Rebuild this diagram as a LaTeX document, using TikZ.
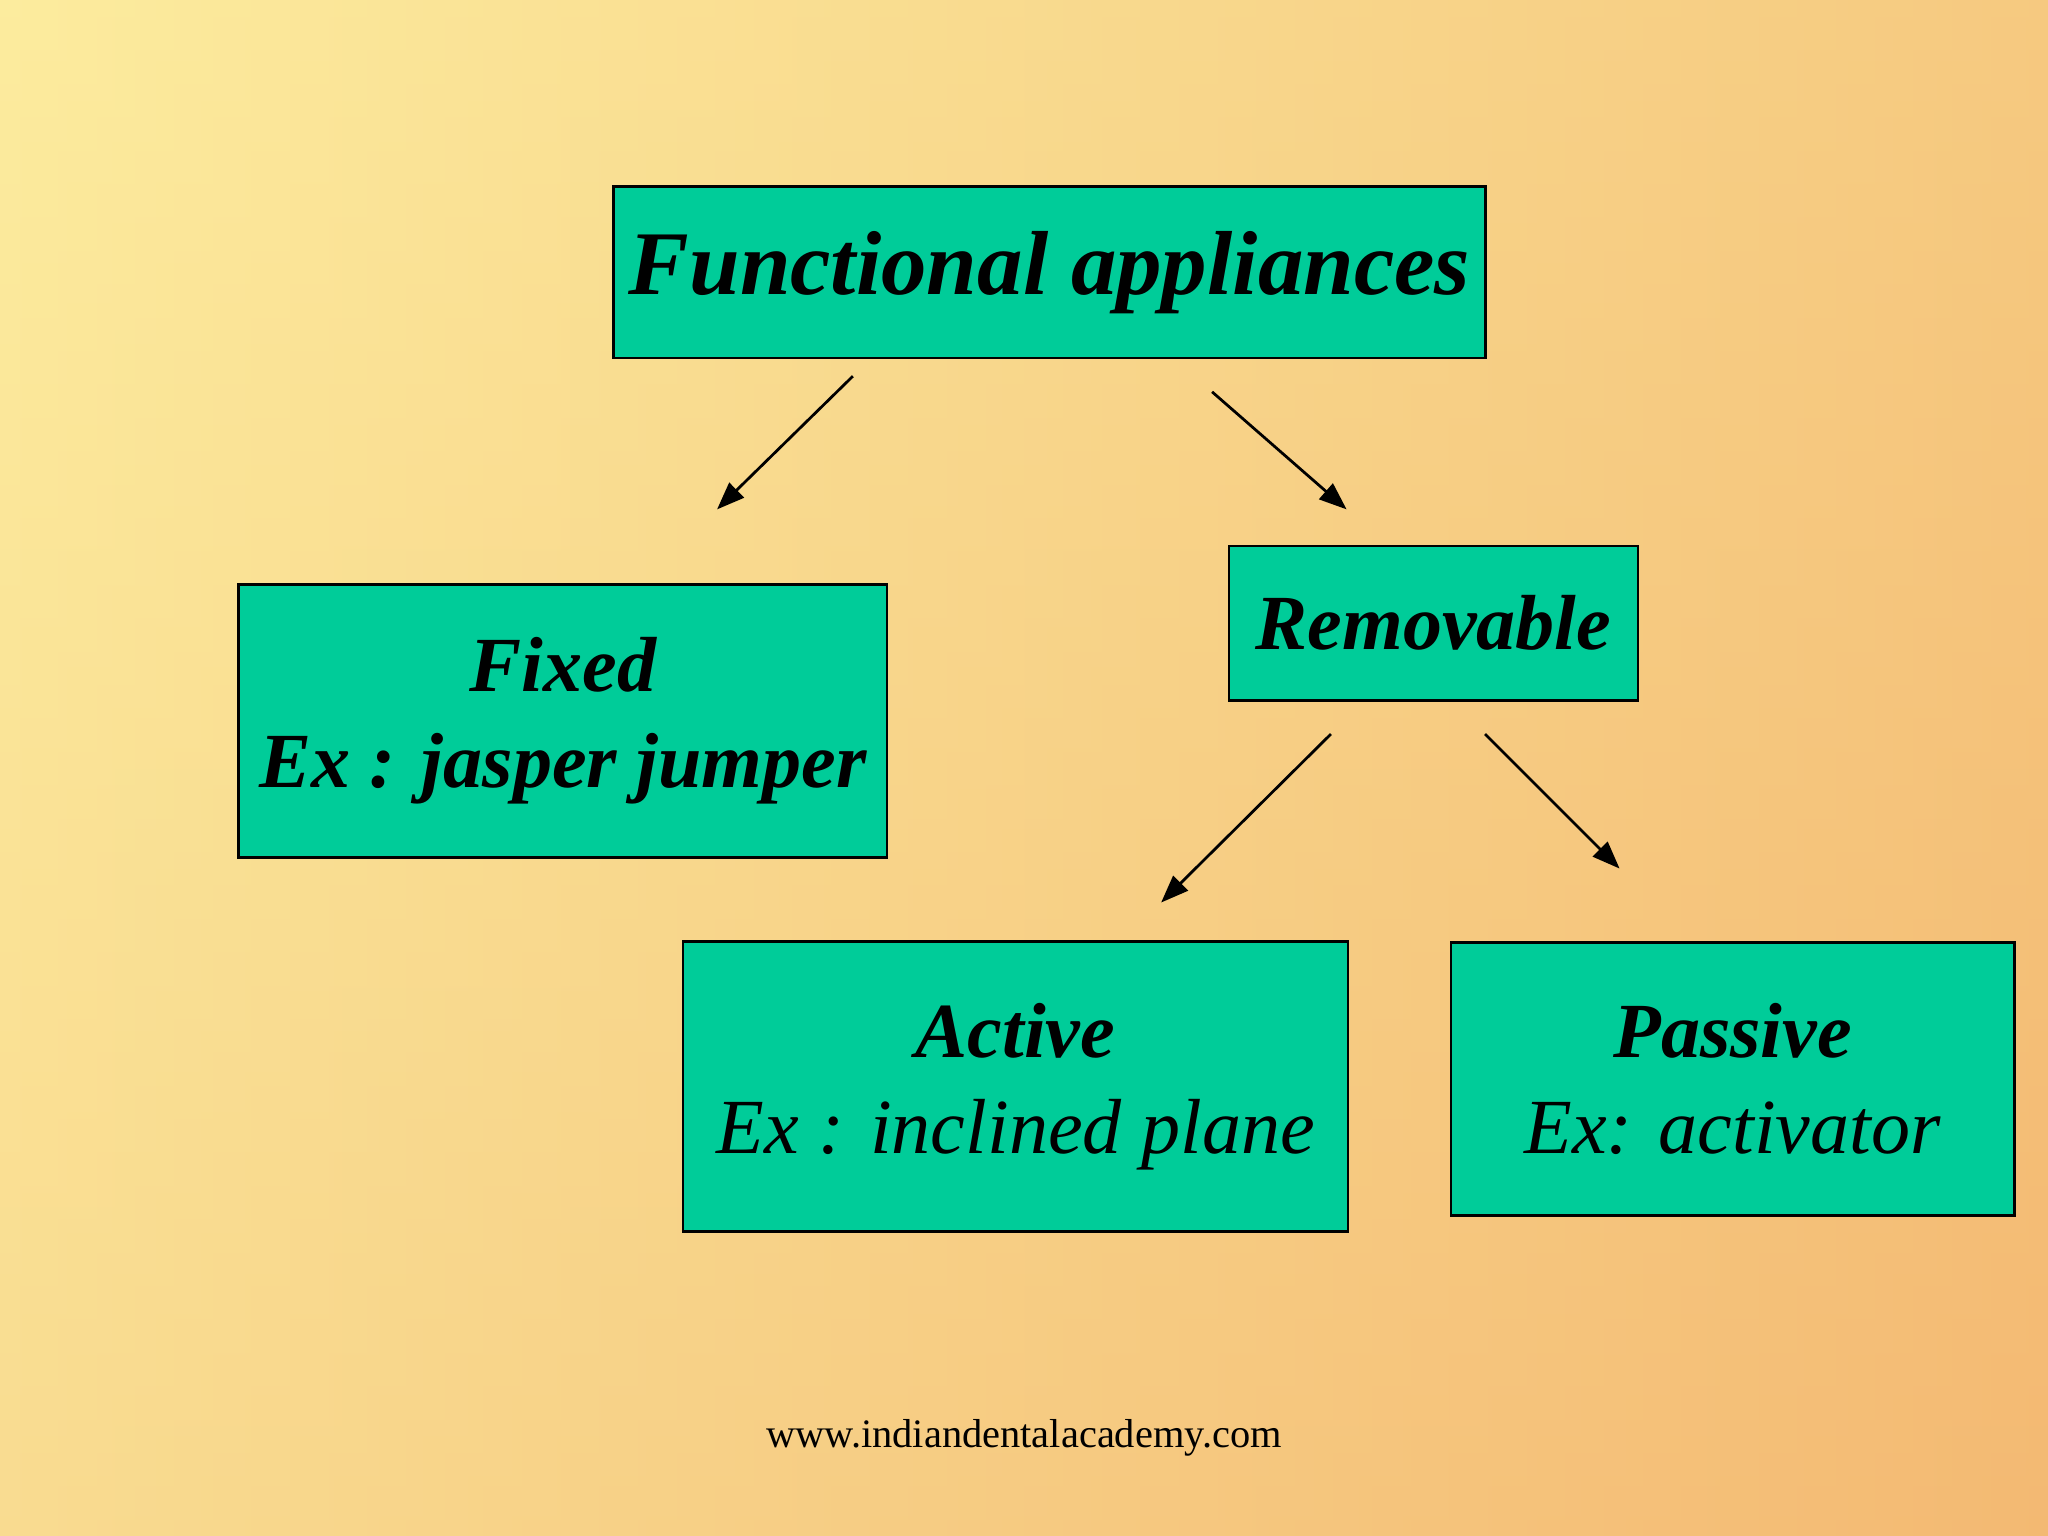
\documentclass[tikz,border=0pt]{standalone}
\usepackage{fontspec}
\setmainfont{Liberation Serif}
\usetikzlibrary{arrows.meta}
\begin{document}
\begin{tikzpicture}[x=0.01cm,y=-0.01cm,
  box/.style={draw=black,line width=0.6pt,fill={rgb,255:red,0;green,204;blue,153},inner sep=0pt,align=center},
  arr/.style={-{Triangle[length=6pt,width=4.5pt]},line width=0.6pt}]
\useasboundingbox (0,0) rectangle (1568,1176);
\shade[left color={rgb,255:red,252;green,236;blue,158},right color={rgb,255:red,243;green,183;blue,112}] (0,0) rectangle (1568,1176);
\shade[top color={rgb,255:red,252;green,236;blue,158},bottom color={rgb,255:red,245;green,190;blue,120},opacity=0.35] (0,0) rectangle (1568,1176);
\node[box,minimum width=6.67cm,minimum height=1.31cm,font=\fontsize{19.8}{23}\selectfont\bfseries\itshape] (fa) at (803.5,208.5) {Functional appliances};
\node[box,minimum width=4.96cm,minimum height=2.09cm,font=\fontsize{17}{21}\selectfont\bfseries\itshape] (fx) at (431,552) {Fixed\\Ex : jasper jumper};
\node[box,minimum width=3.13cm,minimum height=1.18cm,font=\fontsize{17}{21}\selectfont\bfseries\itshape] (rm) at (1097.5,477) {Removable};
\node[box,minimum width=5.09cm,minimum height=2.22cm,font=\fontsize{17}{21}\selectfont\itshape] (ac) at (777.5,832) {{\bfseries Active}\\Ex : inclined plane};
\node[box,minimum width=4.31cm,minimum height=2.09cm,font=\fontsize{17}{21}\selectfont\itshape] (ps) at (1326.5,826) {{\bfseries Passive}\\Ex: activator};
\coordinate (a1) at (653,288); \coordinate (a2) at (549,390);
\coordinate (b1) at (928,300); \coordinate (b2) at (1031,390);
\coordinate (c1) at (1019,562); \coordinate (c2) at (889,691);
\coordinate (d1) at (1137,562); \coordinate (d2) at (1240,665);
\draw[arr] (a1) -- (a2);
\draw[arr] (b1) -- (b2);
\draw[arr] (c1) -- (c2);
\draw[arr] (d1) -- (d2);
\node[font=\fontsize{8.8}{10}\selectfont] (ft) at (784,1101) {www.indiandentalacademy.com};
\end{tikzpicture}
\end{document}
